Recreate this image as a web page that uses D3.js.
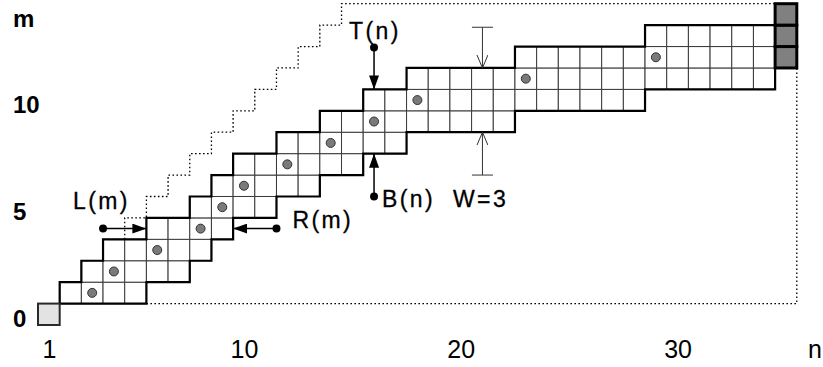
<!DOCTYPE html>
<html>
<head>
<meta charset="utf-8">
<script src="https://cdn.jsdelivr.net/npm/d3@7"></script>
<style>
  body { margin: 0; background: #fff; }
  svg { display: block; font-family: "Liberation Sans", Arial, sans-serif; }
</style>
</head>
<body>
<svg id="chart" width="823" height="367"></svg>
<script>
// band columns n and the rows they cover, B(n) .. T(n)
const bandCols   = [2,3,4,5,6,7,8,9,10,11,12,13,14,15,16,17,18,19,20,21,22,23,24,25,26,27,28,29,30,31,32,33,34];
const bandBottom = [1,1,1,1,2,2,3,4,5,5,6,6,7,7,8,8,9,9,9,9,9,10,10,10,10,10,10,11,11,11,11,11,11];
const bandTop    = [1,2,3,3,4,4,5,6,7,7,8,8,9,9,10,10,11,11,11,11,11,12,12,12,12,12,12,13,13,13,13,13,13];

// grey dots of the path
const pathN = [3,4,6,8,9,10,12,14,16,18,23,29];
const pathM = [1,2,3,4,5,6,7,8,9,10,11,12];

// start cell (light) and end column (dark)
const startN = 1, startM = 0;
const endN = 35;
const endRows = [12,13,14];

// dotted limits, corners in grid-line units
const upperI = [4,5,6,7,8,9,10,11,12,13,14,34];
const upperJ = [4,5,6,7,8,9,10,11,12,13,14,15];
const lowerI = [5,35,35];
const lowerJ = [1,1,12];

const xTicks = [1,10,20,30];
const yTicks = [0,5,10];

const svg = d3.select('#chart');

// grid-line scales (0 = left edge of n=1 / bottom edge of m=0)
const x = d3.scaleLinear().domain([0, 35]).range([38, 796.8]);
const y = d3.scaleLinear().domain([0, 15]).range([325, 3.7]);
// cell-centre scales for the tick labels
const xc = d3.scaleLinear().domain([0.5, 35.5]).range([38, 796.8]);
const yc = d3.scaleLinear().domain([-0.5, 14.5]).range([325, 3.7]);

const cellW = x(1) - x(0);
const cellH = y(0) - y(1);

// cells of the band
let cells = [];
bandCols.forEach((n, i) => {
  for (let m = bandBottom[i]; m <= bandTop[i]; m++) cells.push({n: n, m: m});
});

const gCells = svg.append('g');
gCells.selectAll('rect').data(cells).enter().append('rect')
  .attr('x', d => x(d.n - 1))
  .attr('y', d => y(d.m + 1))
  .attr('width', cellW)
  .attr('height', cellH)
  .attr('fill', '#fff')
  .attr('stroke', '#3a3a3a')
  .attr('stroke-width', 1);

// outline of the band
let outline = [];
bandCols.forEach((n, i) => { outline.push([n - 1, bandBottom[i]], [n, bandBottom[i]]); });
for (let i = bandCols.length - 1; i >= 0; i--) {
  outline.push([bandCols[i], bandTop[i] + 1], [bandCols[i] - 1, bandTop[i] + 1]);
}
const line = d3.line().x(d => x(d[0])).y(d => y(d[1]));
svg.append('path')
  .attr('d', line(outline) + 'Z')
  .attr('fill', 'none')
  .attr('stroke', '#000')
  .attr('stroke-width', 2.2)
  .attr('stroke-linejoin', 'miter');

// dotted limits
const stair = d3.line().x(d => x(d[0])).y(d => y(d[1])).curve(d3.curveStepBefore);
svg.append('path')
  .attr('d', stair(upperI.map((v, i) => [v, upperJ[i]])))
  .attr('fill', 'none')
  .attr('stroke', '#000')
  .attr('stroke-width', 1.3)
  .attr('stroke-dasharray', '1.6,2.4');
svg.append('path')
  .attr('d', line(lowerI.map((v, i) => [v, lowerJ[i]])))
  .attr('fill', 'none')
  .attr('stroke', '#000')
  .attr('stroke-width', 1.3)
  .attr('stroke-dasharray', '1.6,2.4');

// start and end cells
svg.append('rect')
  .attr('x', x(startN - 1)).attr('y', y(startM + 1))
  .attr('width', cellW).attr('height', cellH)
  .attr('fill', '#e3e3e3').attr('stroke', '#2a2a2a').attr('stroke-width', 2);
svg.append('g').selectAll('rect').data(endRows).enter().append('rect')
  .attr('x', x(endN - 1)).attr('y', d => y(d + 1))
  .attr('width', cellW).attr('height', cellH)
  .attr('fill', '#808080').attr('stroke', '#000').attr('stroke-width', 3);

// path dots
svg.append('g').selectAll('circle').data(pathN).enter().append('circle')
  .attr('cx', d => x(d - 0.5))
  .attr('cy', (d, i) => y(pathM[i] + 0.5))
  .attr('r', 4.5)
  .attr('fill', '#7a7a7a')
  .attr('stroke', '#333')
  .attr('stroke-width', 1);

// axes
const xAxis = svg.append('g')
  .attr('transform', 'translate(0,358)')
  .call(d3.axisBottom(xc).tickValues(xTicks).tickSize(0).tickFormat(d3.format('d')));
xAxis.select('.domain').remove();
xAxis.selectAll('text').attr('y', 0).attr('dy', null)
  .style('font-size', '25px').style('font-family', '"Liberation Sans", Arial, sans-serif').attr('fill', '#000');

const yAxis = svg.append('g')
  .attr('transform', 'translate(13,0)')
  .call(d3.axisLeft(yc).tickValues(yTicks).tickSize(0).tickFormat(d3.format('d')));
yAxis.select('.domain').remove();
yAxis.selectAll('text').attr('x', 0).attr('dy', '0.5em').attr('text-anchor', 'start')
  .style('font-size', '24px').style('font-weight', 'bold')
  .style('font-family', '"Liberation Sans", Arial, sans-serif').attr('fill', '#000');

svg.append('text').attr('x', 13).attr('y', 27).text('m')
  .style('font-size', '24px').style('font-weight', 'bold');
svg.append('text').attr('x', 808).attr('y', 358).text('n')
  .style('font-size', '25px');

// arrow markers
const defs = svg.append('defs');
defs.append('marker').attr('id', 'tri')
  .attr('viewBox', '0 0 14 10').attr('refX', 14).attr('refY', 5)
  .attr('markerUnits', 'userSpaceOnUse')
  .attr('markerWidth', 14).attr('markerHeight', 10)
  .attr('orient', 'auto')
  .append('path').attr('d', 'M0,0L14,5L0,10Z').attr('fill', '#000');
defs.append('marker').attr('id', 'vee')
  .attr('viewBox', '0 0 14 12').attr('refX', 13).attr('refY', 6)
  .attr('markerUnits', 'userSpaceOnUse')
  .attr('markerWidth', 14).attr('markerHeight', 12)
  .attr('orient', 'auto')
  .append('path').attr('d', 'M0,0.5L13,6L0,11.5').attr('fill', 'none').attr('stroke', '#333').attr('stroke-width', 1);

function pointer(x0, y0, x1, y1) {
  svg.append('line')
    .attr('x1', x0).attr('y1', y0).attr('x2', x1).attr('y2', y1)
    .attr('stroke', '#000').attr('stroke-width', 1.5)
    .attr('marker-end', 'url(#tri)');
  svg.append('circle').attr('cx', x0).attr('cy', y0).attr('r', 4).attr('fill', '#000');
}

function label(tx, ty, s) {
  svg.append('text').attr('x', tx).attr('y', ty).text(s)
    .style('font-size', '23px').style('letter-spacing', '2.4px')
    .style('stroke', '#000').style('stroke-width', 0.3);
}

// T(n) / B(n) at column 16
pointer(x(15.5), y(12.95), x(15.5), y(11));
label(x(15.5) - 25, y(12.95) - 9, 'T(n)');
pointer(x(15.5), y(6), x(15.5), y(8));
label(x(15.5) + 8, y(6) + 11, 'B(n)');

// L(m) / R(m) on row 4
pointer(x(3), y(4.5), x(5), y(4.5));
label(73, y(4.5) - 20, 'L(m)');
pointer(x(11), y(4.5), x(9), y(4.5));
label(x(11) + 16, y(4.5) - 1, 'R(m)');

// W = 3 at column 21
const wx = x(20.5);
[[13.9, 12], [7, 9]].forEach(p => {
  svg.append('line').attr('x1', wx - 10.5).attr('x2', wx + 10.5)
    .attr('y1', y(p[0])).attr('y2', y(p[0]))
    .attr('stroke', '#333').attr('stroke-width', 1);
  svg.append('line').attr('x1', wx).attr('x2', wx)
    .attr('y1', y(p[0])).attr('y2', y(p[1]))
    .attr('stroke', '#333').attr('stroke-width', 1)
    .attr('marker-end', 'url(#vee)');
});
label(453, y(6) + 11, 'W=3');
</script>
</body>
</html>
